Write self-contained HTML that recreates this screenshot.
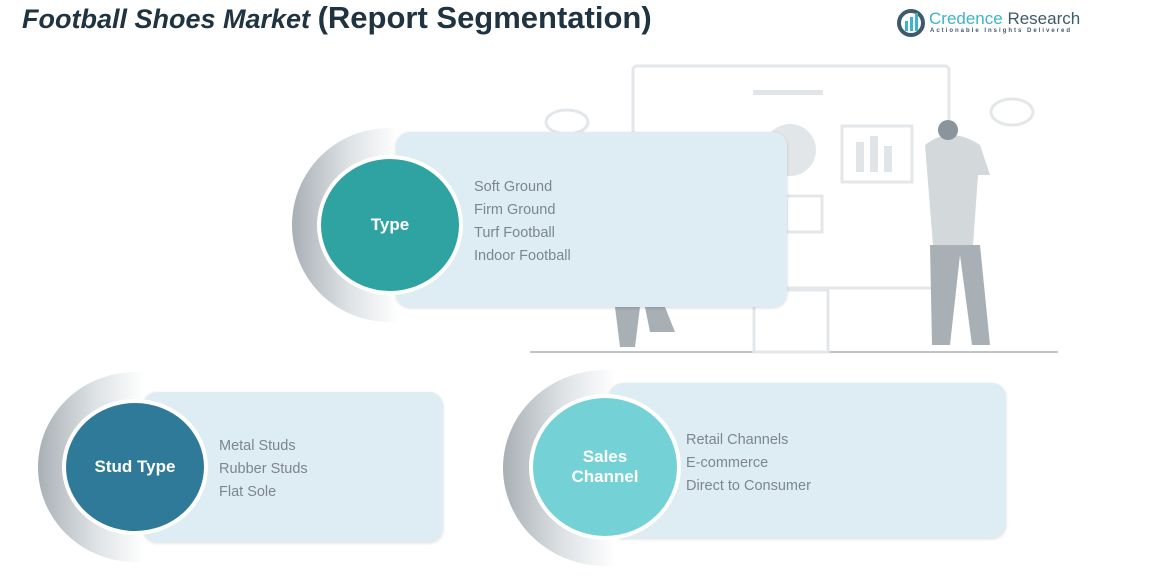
<!DOCTYPE html>
<html><head><meta charset="utf-8"><style>
body{margin:0;width:1150px;height:577px;background:#fff;position:relative;overflow:hidden;font-family:"Century Gothic","Liberation Sans",sans-serif}
.abs{position:absolute}
.ring{position:absolute;border-radius:50%;background:linear-gradient(90deg,#a9b0b5 0%,#dfe3e6 30%,#fff 55%)}
.box{position:absolute;background:#deedf4;border-radius:14px;box-shadow:0 1px 3px rgba(0,0,0,.15)}
.circ{position:absolute;border-radius:50%;border:4px solid #fff;color:#fff;font-weight:bold;font-size:17px;display:flex;align-items:center;justify-content:center;text-align:center;line-height:20px;box-sizing:border-box}
.list{position:absolute;color:#7d868c;font-size:14.5px;line-height:23px}
</style></head><body>
<div class="abs" style="left:22px;top:0;font-size:27px;font-weight:bold;color:#1f3340;font-style:italic">Football Shoes Market <span style="font-style:normal;font-size:31px">(Report Segmentation)</span></div>
<svg class="abs" style="left:896px;top:8px" width="34" height="30"><circle cx="15" cy="15" r="12" fill="none" stroke="#3f5a6a" stroke-width="4"/><rect x="9" y="13" width="3" height="10" fill="#3cb5c9"/><rect x="14" y="9" width="3" height="14" fill="#3cb5c9"/><rect x="19" y="5" width="3" height="18" fill="#3cb5c9"/></svg>
<div class="abs" style="left:929px;top:9px;font-size:17px;color:#3cb5c9">Credence <span style="color:#3f5a6a">Research</span></div>
<div class="abs" style="left:930px;top:28px;font-size:6px;letter-spacing:2px;color:#3f5a6a;font-weight:bold">Actionable Insights Delivered</div>
<svg class="abs" style="left:0;top:0" width="1150" height="577">
<g fill="none" stroke="#e4e7e9" stroke-width="3">
<rect x="633" y="66" width="316" height="222" rx="4"/>
<line x1="530" y1="352" x2="1058" y2="352" stroke="#bfc4c7" stroke-width="2"/>
<rect x="754" y="290" width="74" height="62"/>
<ellipse cx="567" cy="122" rx="21" ry="12"/><ellipse cx="1012" cy="112" rx="21" ry="13"/>
<rect x="842" y="126" width="70" height="56"/><rect x="786" y="196" width="36" height="36"/>
</g>
<circle cx="790" cy="150" r="26" fill="#e3e6e8"/>
<g fill="#e1e5e7"><rect x="856" y="142" width="8" height="30"/><rect x="870" y="136" width="8" height="36"/><rect x="884" y="146" width="8" height="26"/><rect x="753" y="90" width="70" height="5"/></g>
<g fill="#d3d8db"><path d="M925 145 q25-20 55 0 l10 30 -12 0 -5 70 -40 0 z"/><circle cx="948" cy="130" r="10" fill="#8a949c"/><path d="M930 245 h50 l10 100 h-18 l-12-90 -10 90 h-18z" fill="#a8b0b6"/></g>
<path d="M615 307 h25 l-5 40 h-15z M645 307 h20 l10 25 h-25z" fill="#a8b0b6"/>
</svg>
<div class="ring" style="left:292px;top:128px;width:194px;height:194px"></div>
<div class="box" style="left:396px;top:132px;width:391px;height:175px"></div>
<div class="circ" style="left:317px;top:155px;width:146px;height:140px;background:#2fa3a1">Type</div>
<div class="list" style="left:474px;top:176px">Soft Ground<br>Firm Ground<br>Turf Football<br>Indoor Football</div>

<div class="ring" style="left:38px;top:372px;width:194px;height:190px"></div>
<div class="box" style="left:143px;top:392px;width:300px;height:150px"></div>
<div class="circ" style="left:62px;top:399px;width:146px;height:136px;background:#2e7a98">Stud Type</div>
<div class="list" style="left:219px;top:435px">Metal Studs<br>Rubber Studs<br>Flat Sole</div>

<div class="ring" style="left:503px;top:370px;width:204px;height:196px"></div>
<div class="box" style="left:609px;top:383px;width:397px;height:155px"></div>
<div class="circ" style="left:529px;top:394px;width:152px;height:146px;background:#74d2d6">Sales<br>Channel</div>
<div class="list" style="left:686px;top:429px">Retail Channels<br>E-commerce<br>Direct to Consumer</div>
</body></html>
